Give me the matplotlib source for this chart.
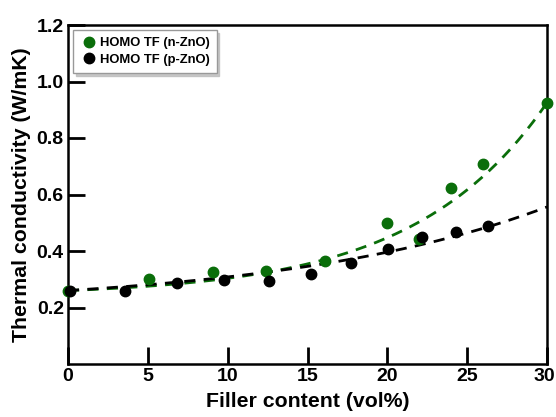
import numpy as np
import matplotlib
matplotlib.use("Agg")
import matplotlib.pyplot as plt
from matplotlib.transforms import ScaledTranslation

plt.rcParams['font.family'] = ['Liberation Sans', 'DejaVu Sans']
plt.rcParams['font.weight'] = 'bold'

# data
x_n = [0, 5.1, 9.1, 12.4, 16.1, 20.0, 22.0, 24.0, 26.0, 30.0]
y_n = [0.26, 0.301, 0.326, 0.329, 0.365, 0.498, 0.441, 0.624, 0.707, 0.925]
x_p = [0.1, 3.6, 6.8, 9.8, 12.6, 15.25, 17.75, 20.05, 22.2, 24.3, 26.3]
y_p = [0.259, 0.258, 0.288, 0.297, 0.295, 0.317, 0.359, 0.406, 0.448, 0.468, 0.488]

# fit parameters (y = a + b*exp(c*x))
fit_n = (0.2413, 0.01868, 0.12)
fit_p = (0.2014, 0.0586, 0.06)

green = '#0a6e0a'
xticks = [0, 5, 10, 15, 20, 25, 30]
yticks = [0.2, 0.4, 0.6, 0.8, 1.0, 1.2]

fig = plt.figure(figsize=(5.56, 4.17), dpi=100)
ax = fig.add_axes([68/556, 1 - 364/417, (547-68)/556, (364-25)/417])

xf = np.linspace(0, 30, 200)
a, b, c = fit_n
ax.plot(xf, a + b*np.exp(c*xf), '--', color=green, lw=2, dashes=(4, 3), zorder=2)
a, b, c = fit_p
ax.plot(xf, a + b*np.exp(c*xf), '--', color='black', lw=2, dashes=(4, 3), zorder=2)

ax.plot(x_n, y_n, 'o', color=green, ms=7.5, label='HOMO TF (n-ZnO)', zorder=3, clip_on=False)
ax.plot(x_p, y_p, 'o', color='black', ms=7.5, label='HOMO TF (p-ZnO)', zorder=4, clip_on=False)

ax.set_xlim(0, 30)
ax.set_ylim(0, 1.2)
ax.set_xticks(xticks)
ax.set_xticklabels([str(t) for t in xticks])
ax.set_yticks(yticks)
ax.set_yticklabels([f'{t:.1f}' for t in yticks])
ax.tick_params(direction='in', length=12, width=2, labelsize=14, pad=3)
for s in ax.spines.values():
    s.set_linewidth(1.8)
for lab in ax.get_xticklabels() + ax.get_yticklabels():
    lab.set_fontweight('bold')
last = ax.get_xticklabels()[-1]
last.set_transform(last.get_transform() + ScaledTranslation(-3/100, 0, fig.dpi_scale_trans))

ax.set_xlabel('Filler content (vol%)', fontsize=15.3, fontweight='bold', labelpad=5)
ax.set_ylabel('Thermal conductivity (W/mK)', fontsize=15.3, fontweight='bold', labelpad=4)

leg = ax.legend(loc='upper left', bbox_to_anchor=(5/479, 1 - 5/339), borderaxespad=0,
                frameon=True, shadow={'color': '#bbbbbb', 'alpha': 0.8}, fancybox=False,
                handletextpad=0.1, borderpad=0.55, handlelength=1.4, labelspacing=0.35,
                prop={'weight': 'bold', 'size': 9.4})
leg.get_frame().set_edgecolor('#999999')
leg.get_frame().set_linewidth(1)

fig.savefig('out.png', dpi=100)
